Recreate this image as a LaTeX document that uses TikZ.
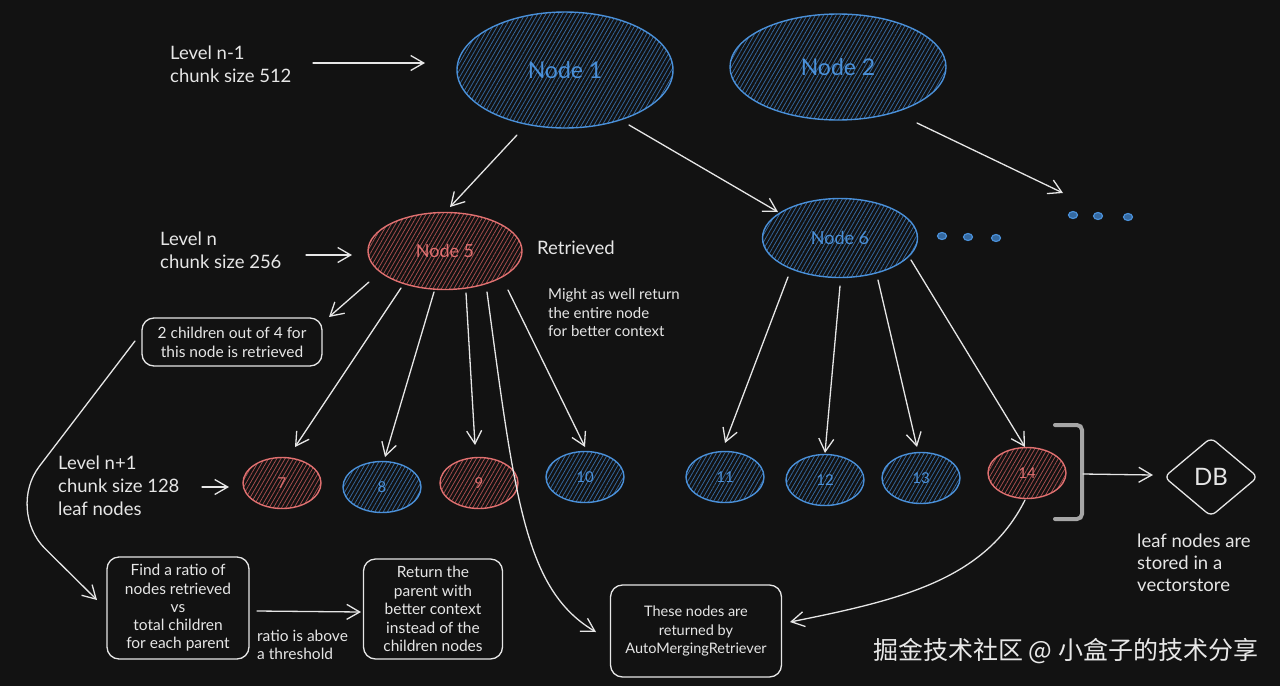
\documentclass[tikz,border=0pt]{standalone}
\usepackage{fontspec}
\setmainfont{Lato}
\newfontfamily\cjkfont{Noto Sans CJK SC}
\usetikzlibrary{shapes.geometric,arrows.meta,patterns.meta}
\definecolor{bg}{HTML}{121212}
\definecolor{bluestroke}{HTML}{4A90D9}
\definecolor{bluehatch}{HTML}{3569A0}
\definecolor{redstroke}{HTML}{E07070}
\definecolor{redhatch}{HTML}{A84E4E}
\definecolor{ink}{HTML}{E6E6E6}
\definecolor{brkgray}{HTML}{A6A6A6}
\begin{document}
\begin{tikzpicture}[x=1pt,y=-1pt,
  every node/.style={inner sep=0pt},
  bluenode/.style={ellipse, draw=bluestroke, line width=1.4pt,
    pattern={Lines[angle=60,distance=3.6pt,line width=0.75pt]}, pattern color=bluehatch, text=bluestroke},
  rednode/.style={ellipse, draw=redstroke, line width=1.4pt,
    pattern={Lines[angle=60,distance=3.6pt,line width=0.75pt]}, pattern color=redhatch, text=redstroke},
  leaf/.style={minimum width=78pt, minimum height=51pt, font=\fontsize{15}{18}\selectfont},
  dotblob/.style={ellipse, draw=bluestroke, fill=bluehatch, line width=1.2pt, minimum width=9pt, minimum height=7pt},
  lbl/.style={text=ink, align=left, anchor=west, font=\fontsize{18.5}{23}\selectfont},
  smalllbl/.style={text=ink, align=left, anchor=west, font=\fontsize{15}{18.5}\selectfont},
  textbox/.style={draw=ink, line width=1.3pt, rounded corners=12pt, align=center, text=ink},
  arr/.style={draw=ink, line width=1.3pt, line cap=round, -{Straight Barb[length=13pt,width=15pt]}},
  bracketstyle/.style={draw=brkgray, line width=4pt, rounded corners=5pt, line cap=round}
]
\fill[bg] (0,0) rectangle (1280,686);
\useasboundingbox (0,0) rectangle (1280,686);

% upper level
\node[bluenode, minimum width=216pt, minimum height=116pt, font=\fontsize{23}{27}\selectfont] (n1) at (565,70) {Node 1};
\node[bluenode, minimum width=216pt, minimum height=106pt, font=\fontsize{23}{27}\selectfont] (n2) at (838,67) {Node 2};

% middle level
\node[rednode, minimum width=154pt, minimum height=77pt, font=\fontsize{18}{22}\selectfont] (n5) at (445,251) {Node 5};
\node[bluenode, minimum width=155pt, minimum height=79pt, font=\fontsize{18}{22}\selectfont] (n6) at (840,238) {Node 6};

% dots
\node[dotblob] (dA1) at (942,236) {};
\node[dotblob] (dA2) at (968,237) {};
\node[dotblob] (dA3) at (996,238) {};
\node[dotblob] (dB1) at (1073,215) {};
\node[dotblob] (dB2) at (1098,216) {};
\node[dotblob] (dB3) at (1128,217) {};

% leaves
\node[rednode, leaf] (l7) at (282,483) {7};
\node[bluenode, leaf] (l8) at (382,487) {8};
\node[rednode, leaf] (l9) at (479,483) {9};
\node[bluenode, leaf] (l10) at (585,477) {10};
\node[bluenode, leaf] (l11) at (725,477) {11};
\node[bluenode, leaf] (l12) at (825,480) {12};
\node[bluenode, leaf] (l13) at (921,478) {13};
\node[rednode, leaf] (l14) at (1027,473) {14};

% labels
\node[lbl] (lvl1) at (170,64) {Level n-1\\chunk size 512};
\node[lbl] (lvln) at (160,250) {Level n\\chunk size 256};
\node[lbl] (ret) at (537,248) {Retrieved};
\node[smalllbl] (might) at (548,313) {Might as well return\\the entire node\\for better context};
\node[lbl] (lvlleaf) at (58,486) {Level n+1\\chunk size 128\\leaf nodes};
\node[lbl, font=\fontsize{18.5}{22}\selectfont] (store) at (1137,563) {leaf nodes are\\stored in a\\vectorstore};
\node[smalllbl, font=\fontsize{15.5}{17.5}\selectfont] (ratio) at (257,645) {ratio is above\\a threshold};

% boxes
\node[textbox, minimum width=180pt, minimum height=48pt, font=\fontsize{15.5}{19}\selectfont] (bchild) at (232,342) {2 children out of 4 for\\this node is retrieved};
\node[textbox, minimum width=142pt, minimum height=102pt, font=\fontsize{15.5}{18.3}\selectfont] (bfind) at (178,608) {Find a ratio of\\nodes retrieved\\vs\\total children\\for each parent};
\node[textbox, minimum width=139pt, minimum height=100pt, font=\fontsize{15.5}{18.5}\selectfont] (bret) at (433,609) {Return the\\parent with\\better context\\instead of the\\children nodes};
\node[textbox, minimum width=171pt, minimum height=92pt, font=\fontsize{14.5}{18.5}\selectfont] (bthese) at (696,631) {These nodes are\\returned by\\AutoMergingRetriever};
\node[diamond, draw=ink, line width=1.3pt, rounded corners=6pt, minimum width=94pt, minimum height=79pt, text=ink, font=\fontsize{24}{28}\selectfont] (db) at (1211,477) {DB};

% bracket
\draw[bracketstyle] (1055,425) -- (1082,425) -- (1082,519) -- (1055,519);
\coordinate (brkmid) at (1083,474);
\coordinate (bend) at (6,510);

% watermark
\node[anchor=west, text=ink!92, font=\cjkfont\fontsize{25}{30}\selectfont] (wm) at (873,651) {掘金技术社区 @ 小盒子的技术分享};

% connectors
\draw[arr] ([shift={(143,-1)}]lvl1.west) -- ([shift={(-140,-7)}]n1.center);
\draw[arr] ([shift={(146,5)}]lvln.west) -- ([shift={(-93,4)}]n5.center);
\draw[arr] ([shift={(144,1)}]lvlleaf.west) -- ([shift={(-53,4)}]l7.center);

\draw[arr] ([shift={(-48,65)}]n1.center) -- ([shift={(5,-44)}]n5.center);
\draw[arr] ([shift={(64,55)}]n1.center) -- ([shift={(-62,-26)}]n6.center);
\draw[arr] ([shift={(79,56)}]n2.center) -- ([shift={(-35,-23)}]dB2.center);

\draw[arr] ([shift={(-76,31)}]n5.center) -- ([shift={(97,-25)}]bchild.center);
\draw[arr] ([shift={(-44,37)}]n5.center) -- ([shift={(13,-36)}]l7.center);
\draw[arr] ([shift={(-11,41)}]n5.center) -- ([shift={(3,-30)}]l8.center);
\draw[arr] ([shift={(21,42)}]n5.center) -- ([shift={(-4,-38)}]l9.center);
\draw[arr] ([shift={(63,39)}]n5.center) -- ([shift={(0,-30)}]l10.center);
\draw[arr] ([shift={(42,41)}]n5.center) .. controls +(28,208) and +(-71,-42) .. ([shift={(-100,1)}]bthese.center);

\draw[arr] ([shift={(-52,39)}]n6.center) -- ([shift={(0,-34)}]l11.center);
\draw[arr] ([shift={(0,48)}]n6.center) -- ([shift={(0,-27)}]l12.center);
\draw[arr] ([shift={(38,42)}]n6.center) -- ([shift={(-4,-31)}]l13.center);
\draw[arr] ([shift={(71,22)}]n6.center) -- ([shift={(-2,-26)}]l14.center);

\draw[arr] ([shift={(-2,27)}]l14.center) .. controls +(-40,80) and +(110,-22) .. ([shift={(94,-9)}]bthese.center);

\draw[arr, rounded corners=55pt] ([shift={(-97,-1)}]bchild.center) -- (bend) -- ([shift={(-81,-8)}]bfind.center);
\draw[arr] ([shift={(79,3)}]bfind.center) -- ([shift={(-72,3)}]bret.center);
\draw[arr] (brkmid) -- ([shift={(-58,-2)}]db.center);
\end{tikzpicture}
\end{document}
